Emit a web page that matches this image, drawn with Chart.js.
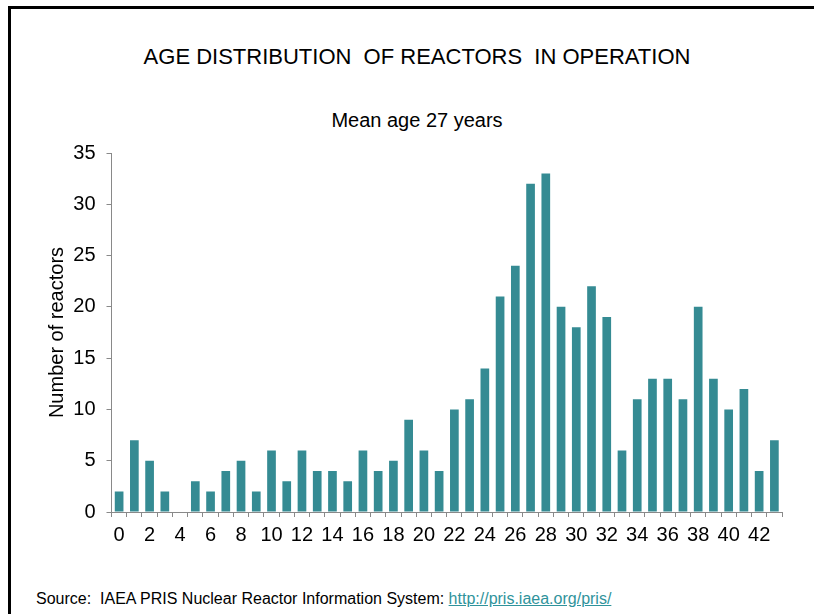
<!DOCTYPE html>
<html>
<head>
<meta charset="utf-8">
<script src="https://cdn.jsdelivr.net/npm/chart.js@4"></script>
<style>
  body { margin: 0; background: #fff; font-family: "Liberation Sans", Arial, sans-serif; }
  #page { position: relative; width: 814px; height: 614px; overflow: hidden; }
  #frame { position: absolute; left: 8px; top: 6px; width: 820px; height: 640px;
           border-left: 3px solid #000; border-top: 3px solid #000; }
  .title { position: absolute; left: 0; width: 834px; text-align: center; color: #000; white-space: pre; }
  #title { top: 44px; font-size: 22px; }
  #subtitle { top: 109px; font-size: 20px; }
  #chart-wrap { position: absolute; left: 0; top: 130px; width: 814px; height: 420px; }
  #source { position: absolute; left: 36px; top: 590px; font-size: 16px; color: #000; white-space: pre; }
  #source a { color: #2f939b; text-decoration: underline; }
</style>
</head>
<body>
<div id="page">
  <div id="frame"></div>
  <div class="title" id="title">AGE DISTRIBUTION  OF REACTORS  IN OPERATION</div>
  <div class="title" id="subtitle">Mean age 27 years</div>
  <div id="chart-wrap"><canvas id="age-chart" width="814" height="420"></canvas></div>
  <div id="source">Source:  IAEA PRIS Nuclear Reactor Information System: <a href="#">http://pris.iaea.org/pris/</a></div>
</div>
<script>
  // Data
  const ages = ['0', '1', '2', '3', '4', '5', '6', '7', '8', '9', '10', '11', '12', '13', '14',
                '15', '16', '17', '18', '19', '20', '21', '22', '23', '24', '25', '26', '27', '28', '29',
                '30', '31', '32', '33', '34', '35', '36', '37', '38', '39', '40', '41', '42', '43'];
  const reactors = [2, 7, 5, 2, 0, 3, 2, 4, 5, 2, 6, 3, 6, 4, 4,
                    3, 6, 4, 5, 9, 6, 4, 10, 11, 14, 21, 24, 32, 33, 20,
                    18, 22, 19, 6, 11, 13, 13, 11, 20, 13, 10, 12, 4, 7];
  const yMax = 35;
  const yStep = 5;

  const axisGrey = '#898989';
  const barColor = '#358b93';
  const font = { family: '"Liberation Sans", Arial, sans-serif', size: 20 };

  const ctx = document.getElementById('age-chart').getContext('2d');
  new Chart(ctx, {
    type: 'bar',
    data: {
      labels: ages,
      datasets: [{
        label: 'Number of reactors',
        data: reactors,
        backgroundColor: barColor,
        borderWidth: 0,
        barPercentage: 0.57,
        categoryPercentage: 1
      }]
    },
    options: {
      responsive: false,
      animation: false,
      layout: { padding: { left: 41, right: 32, top: 22, bottom: 0 } },
      plugins: {
        legend: { display: false },
        tooltip: { enabled: false }
      },
      scales: {
        x: {
          offset: true,
          grid: { offset: true, drawOnChartArea: false, drawTicks: true, tickLength: 5, color: axisGrey },
          border: { color: axisGrey, width: 1 },
          ticks: {
            autoSkip: false,
            maxRotation: 0,
            padding: 6,
            color: '#000',
            font: font,
            callback: (val, i) => (i % 2 === 0 ? ages[i] : '')
          },
          afterFit: (scale) => { scale.height = 38; }
        },
        y: {
          min: 0,
          max: yMax,
          grid: { drawOnChartArea: false, drawTicks: true, tickLength: 5, color: axisGrey },
          border: { color: axisGrey, width: 1 },
          ticks: { stepSize: yStep, padding: 11, color: '#000', font: font },
          title: {
            display: true,
            text: 'Number of reactors',
            color: '#000',
            font: font,
            padding: { top: 4, bottom: 0 }
          },
          afterFit: (scale) => { scale.width = 70.5; }
        }
      }
    }
  });
</script>
</body>
</html>
